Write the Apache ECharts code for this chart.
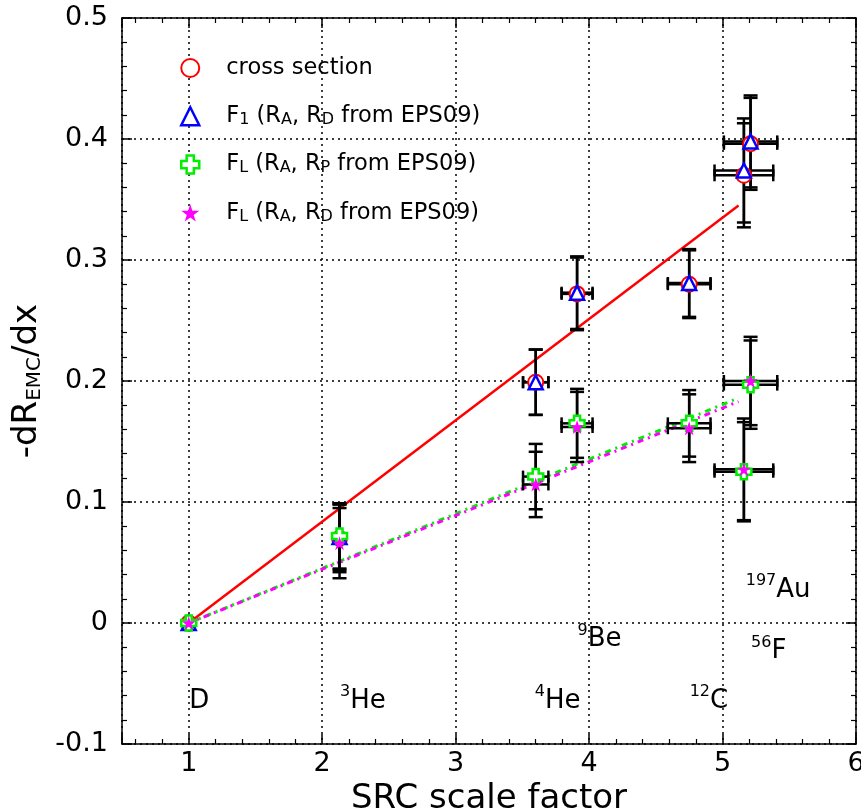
<!DOCTYPE html>
<html><head><meta charset="utf-8">
<script src="https://cdn.jsdelivr.net/npm/echarts@6/dist/echarts.min.js"></script>
<style>html,body{margin:0;padding:0;background:#fff;width:100%;height:100%;overflow:hidden}#c{width:100vw;height:100vh}</style>
</head><body><div id="c"></div>
<script>
// ---- data ----
const nuclei = ['D', '3He', '4He', '9Be', '12C', '56Fe', '197Au'];
const srcFactor = [1.00, 2.13, 3.60, 3.91, 4.75, 5.16, 5.21];
const srcFactorErr = [0, 0, 0.095, 0.116, 0.16, 0.22, 0.20];

const crossSection = [0, 0.070, 0.199, 0.272, 0.280, 0.370, 0.396];
const crossSectionErr = [0, 0.028, 0.027, 0.030, 0.028, 0.043, 0.038];
const f1EPS09 = [0, 0.071, 0.199, 0.273, 0.281, 0.374, 0.398];
const f1EPS09Err = [0, 0.027, 0.027, 0.030, 0.028, 0.043, 0.038];
const fLRpEPS09 = [0, 0.072, 0.121, 0.165, 0.165, 0.125, 0.197];
const fLRpEPS09Err = [0, 0.027, 0.027, 0.0285, 0.0275, 0.041, 0.0365];
const fLRdEPS09 = [0, 0.066, 0.1145, 0.162, 0.161, 0.127, 0.200];
const fLRdEPS09Err = [0, 0.029, 0.027, 0.029, 0.028, 0.042, 0.0365];

const fitX = [1.0, 5.12];
const fitCrossSection = [0, 0.345];
const fitFLRp = [0, 0.186];
const fitFLRd = [0, 0.183];

const nucleusLabels = ['{n|D}', '{sup|3}{n|He}', '{sup|4}{n|He}', '{sup|9}{n|Be}', '{sup|12}{n|C}', '{sup|56}{n|F}', '{sup|197}{n|Au}'];
const nucleusLabelX = [1.0, 2.13, 3.59, 3.91, 4.75, 5.21, 5.17];
const nucleusLabelY = [-0.063, -0.063, -0.063, -0.012, -0.063, -0.022, 0.029];

const legendNames = ['cross section', 'F1 (RA, RD from EPS09)', 'FL (RA, RP from EPS09)', 'FL (RA, RD from EPS09)'];
const legendRichText = [
  '{sp|}{n|cross section}{s| }',
  '{sp|}{n|F}{s|1}{n| (R}{s|A}{n|, R}{s|D}{n| from EPS09)}',
  '{sp|}{n|F}{s|L}{n| (R}{s|A}{n|, R}{s|P}{n| from EPS09)}',
  '{sp|}{n|F}{s|L}{n| (R}{s|A}{n|, R}{s|D}{n| from EPS09)}'
];

// ---- styling ----
const FONT = 'DejaVu Sans';
const RED = '#ff0000', BLUE = '#0000ff', GREEN = '#00ee00', MAG = '#ff00ff';
const plusPath = 'path://M3,0L7,0L7,3L10,3L10,7L7,7L7,10L3,10L3,7L0,7L0,3L3,3Z';
const starPath = 'path://M50,0L61.2,34.5L97.6,34.5L68.2,55.9L79.4,90.5L50,69.1L20.6,90.5L31.8,55.9L2.4,34.5L38.8,34.5Z';

function pts(ys) { return srcFactor.map((x, i) => [x, ys[i]]); }
function errPts(ys, es) { return srcFactor.map((x, i) => [x, ys[i], srcFactorErr[i], es[i]]); }
function fitPts(ys) { return fitX.map((x, i) => [x, ys[i]]); }

function errRender(params, api) {
  const x = api.value(0), y = api.value(1), ex = api.value(2), ey = api.value(3);
  const st = { stroke: '#000', lineWidth: 2.5 };
  const ch = [];
  const capV = 7, capH = 6;
  if (ey > 0) {
    const t = api.coord([x, y + ey]), b = api.coord([x, y - ey]);
    ch.push({ type: 'line', shape: { x1: t[0], y1: t[1], x2: b[0], y2: b[1] }, style: st });
    ch.push({ type: 'line', shape: { x1: t[0] - capV, y1: t[1], x2: t[0] + capV, y2: t[1] }, style: st });
    ch.push({ type: 'line', shape: { x1: b[0] - capV, y1: b[1], x2: b[0] + capV, y2: b[1] }, style: st });
  }
  if (ex > 0) {
    const l = api.coord([x - ex, y]), r = api.coord([x + ex, y]);
    ch.push({ type: 'line', shape: { x1: l[0], y1: l[1], x2: r[0], y2: r[1] }, style: st });
    ch.push({ type: 'line', shape: { x1: l[0], y1: l[1] - capH, x2: l[0], y2: l[1] + capH }, style: st });
    ch.push({ type: 'line', shape: { x1: r[0], y1: r[1] - capH, x2: r[0], y2: r[1] + capH }, style: st });
  }
  return { type: 'group', children: ch };
}

const chart = echarts.init(document.getElementById('c'), null, { renderer: 'canvas' });

const axisLineStyle = { color: '#000', width: 1.5 };
const splitStyle = { color: '#000', width: 1.5, type: [2, 4] };

const option = {
  animation: false,
  backgroundColor: '#fff',
  grid: { left: 122, right: 5, top: 18, bottom: 67, containLabel: false, outerBoundsMode: 'none' },
  legend: {
    orient: 'vertical', left: 180, top: 47.5, padding: 0, itemGap: 16.3,
    itemWidth: 18, itemHeight: 18,
    selectedMode: false,
    data: [
      { name: legendNames[0], icon: 'circle', itemStyle: { color: '#fff', borderColor: RED, borderWidth: 2 } },
      { name: legendNames[1], icon: 'triangle', itemStyle: { color: '#fff', borderColor: BLUE, borderWidth: 2.5 } },
      { name: legendNames[2], icon: plusPath, itemStyle: { color: '#fff', borderColor: GREEN, borderWidth: 2.5 } },
      { name: legendNames[3], icon: starPath, itemStyle: { color: MAG, borderWidth: 0 } }
    ],
    formatter: name => legendRichText[legendNames.indexOf(name)],
    textStyle: {
      fontFamily: FONT, color: '#000', fontSize: 22.5,
      rich: {
        sp: { width: 22 },
        n: { fontFamily: FONT, fontSize: 22.5, lineHeight: 23, verticalAlign: 'top', color: '#000' },
        s: { fontFamily: FONT, fontSize: 16, lineHeight: 16, padding: [16, 0, 0, 0], verticalAlign: 'bottom', color: '#000' }
      }
    }
  },
  xAxis: [{
    type: 'value', min: 0.5, max: 6, position: 'bottom',
    axisLine: { show: true, onZero: false, lineStyle: axisLineStyle },
    axisTick: { show: true, inside: true, length: 10, lineStyle: axisLineStyle },
    minorTick: { show: true, splitNumber: 5, length: 5, lineStyle: { color: '#000', width: 1.2 } },
    axisLabel: { showMinLabel: false, color: '#000', fontFamily: FONT, fontSize: 27, margin: 6 },
    splitLine: { show: true, lineStyle: splitStyle },
    name: 'SRC scale factor', nameLocation: 'middle', nameGap: 34,
    nameTextStyle: { fontFamily: FONT, fontSize: 34, color: '#000' }
  }, {
    type: 'value', min: 0.5, max: 6, position: 'top',
    axisLine: { show: true, onZero: false, lineStyle: axisLineStyle },
    axisTick: { show: true, inside: true, length: 10, lineStyle: axisLineStyle },
    minorTick: { show: true, splitNumber: 5, length: 5, lineStyle: { color: '#000', width: 1.2 } },
    axisLabel: { show: false }, splitLine: { show: false }
  }],
  yAxis: [{
    type: 'value', min: -0.1, max: 0.5, interval: 0.1, position: 'left',
    axisLine: { show: true, onZero: false, lineStyle: axisLineStyle },
    axisTick: { show: true, inside: true, length: 10, lineStyle: axisLineStyle },
    minorTick: { show: true, splitNumber: 5, length: 5, lineStyle: { color: '#000', width: 1.2 } },
    axisLabel: { color: '#000', fontFamily: FONT, fontSize: 27, margin: 14,
      formatter: v => (Math.round(v * 10) / 10).toString() },
    splitLine: { show: true, lineStyle: splitStyle },
    name: '{n|-dR}{s|EMC}{n|/dx}', nameLocation: 'middle', nameRotate: 90, nameGap: 58,
    nameTextStyle: {
      color: '#000',
      rich: {
        n: { fontFamily: FONT, fontSize: 34, lineHeight: 34, verticalAlign: 'top', color: '#000' },
        s: { fontFamily: FONT, fontSize: 20, lineHeight: 20, padding: [18, 0, 0, 0], verticalAlign: 'bottom', color: '#000' }
      }
    }
  }, {
    type: 'value', min: -0.1, max: 0.5, interval: 0.1, position: 'right',
    axisLine: { show: true, onZero: false, lineStyle: axisLineStyle },
    axisTick: { show: true, inside: true, length: 10, lineStyle: axisLineStyle },
    minorTick: { show: true, splitNumber: 5, length: 5, lineStyle: { color: '#000', width: 1.2 } },
    axisLabel: { show: false }, splitLine: { show: false }
  }],
  series: [
    { name: 'fit-cs', type: 'line', data: fitPts(fitCrossSection), symbol: 'none', z: 3,
      lineStyle: { color: RED, width: 2.5 } },
    { name: 'fit-rp', type: 'line', data: fitPts(fitFLRp), symbol: 'none', z: 3,
      lineStyle: { color: GREEN, width: 3, type: [6, 5, 2, 5] } },
    { name: 'fit-rd', type: 'line', data: fitPts(fitFLRd), symbol: 'none', z: 3,
      lineStyle: { color: MAG, width: 3, type: [6, 5, 2, 5], dashOffset: 2 } },
    { name: 'err-cs', type: 'custom', renderItem: errRender, data: errPts(crossSection, crossSectionErr), encode: { x: 0, y: 1 }, z: 4 },
    { name: 'err-f1', type: 'custom', renderItem: errRender, data: errPts(f1EPS09, f1EPS09Err), encode: { x: 0, y: 1 }, z: 4 },
    { name: 'err-rp', type: 'custom', renderItem: errRender, data: errPts(fLRpEPS09, fLRpEPS09Err), encode: { x: 0, y: 1 }, z: 4 },
    { name: 'err-rd', type: 'custom', renderItem: errRender, data: errPts(fLRdEPS09, fLRdEPS09Err), encode: { x: 0, y: 1 }, z: 4 },
    { name: legendNames[0], type: 'scatter', data: pts(crossSection), symbol: 'circle', symbolSize: 15, z: 5,
      itemStyle: { color: '#fff', borderColor: RED, borderWidth: 2, opacity: 1 } },
    { name: legendNames[1], type: 'scatter', data: pts(f1EPS09), symbol: 'triangle', symbolSize: 14, z: 6,
      itemStyle: { color: '#fff', borderColor: BLUE, borderWidth: 2.5, opacity: 1 } },
    { name: legendNames[2], type: 'scatter', data: pts(fLRpEPS09), symbol: plusPath, symbolSize: 15, z: 7,
      itemStyle: { color: '#fff', borderColor: GREEN, borderWidth: 2.5, opacity: 1 } },
    { name: legendNames[3], type: 'scatter', data: pts(fLRdEPS09), symbol: starPath, symbolSize: 14, z: 8,
      itemStyle: { color: MAG, opacity: 1 } },
    { name: 'nuclei', type: 'scatter', symbol: 'circle', symbolSize: 1, z: 9, silent: true,
      itemStyle: { color: 'rgba(0,0,0,0)' },
      data: nuclei.map((n, i) => ({ name: n, value: [nucleusLabelX[i], nucleusLabelY[i]] })),
      label: {
        show: true, position: 'right', distance: 0, opacity: 1,
        formatter: p => nucleusLabels[p.dataIndex],
        rich: {
          n: { fontFamily: FONT, fontSize: 26, lineHeight: 30, padding: [4, 0, 0, 0], verticalAlign: 'bottom', color: '#000' },
          sup: { fontFamily: FONT, fontSize: 16, lineHeight: 16, verticalAlign: 'top', color: '#000' }
        }
      }
    }
  ]
};
chart.setOption(option);
</script></body></html>
